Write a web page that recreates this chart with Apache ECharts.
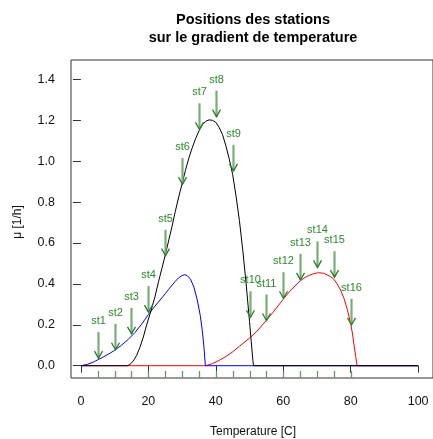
<!DOCTYPE html>
<html><head><meta charset="utf-8">
<script src="https://cdn.jsdelivr.net/npm/echarts@6/dist/echarts.min.js"></script>
<style>html,body{margin:0;padding:0;background:#fff}#c{width:433px;height:439px}</style>
</head><body><div id="c"></div>
<script>
const stationNames = ['st1','st2','st3','st4','st5','st6','st7','st8','st9','st10','st11','st12','st13','st14','st15','st16'];
const stationTemps = [5,10,15,20,25,30,35,40,45,50,55,60,65,70,75,80];
const arrowTips = [0.037,0.078,0.156,0.262,0.538,0.888,1.156,1.218,0.953,0.237,0.221,0.33,0.42,0.481,0.433,0.2];

const blueCurve = [[0,0],[2,0.007],[4,0.02],[5,0.029],[6,0.037],[8,0.055],[10,0.075],[12,0.1],[14,0.128],[15,0.145],[16,0.162],[18,0.203],[20,0.25],[22,0.292],[24,0.332],[25,0.352],[26,0.373],[28,0.413],[29,0.43],[30,0.441],[30.8,0.445],[31.5,0.441],[32.5,0.423],[33.5,0.385],[34.5,0.322],[35.4,0.245],[36,0.17],[36.5,0.09],[36.9,0],[100,0]];
const blackCurve = [[0,0],[13.8,0],[14.5,0.006],[15.5,0.022],[16.5,0.05],[17.5,0.09],[18.5,0.14],[19.5,0.2],[20.8,0.27],[22,0.34],[23,0.41],[24,0.475],[25,0.54],[26,0.61],[27,0.68],[28,0.755],[29,0.825],[30,0.89],[31,0.955],[32,1.015],[33,1.065],[34,1.11],[35,1.148],[36,1.178],[37,1.195],[38,1.202],[39,1.2],[40,1.19],[41,1.165],[42,1.13],[43,1.075],[44,1.01],[45,0.935],[46,0.83],[47,0.71],[48,0.565],[49,0.4],[50,0.215],[50.5,0.12],[51,0.025],[51.2,0],[100,0]];
const redCurve = [[0,0],[37,0],[39,0.01],[41,0.026],[43,0.045],[45,0.068],[47,0.095],[50,0.135],[52,0.165],[55,0.222],[57,0.262],[60,0.325],[62,0.365],[65,0.415],[67,0.437],[69,0.45],[70.5,0.455],[72,0.452],[74,0.436],[75,0.423],[76,0.4],[77,0.37],[78,0.33],[79,0.275],[80,0.205],[80.5,0.16],[81,0.1],[81.5,0.045],[81.9,0],[100,0]];

const xTickValues = [0,20,40,60,80,100];
const yTickValues = [0,0.2,0.4,0.6,0.8,1.0,1.2,1.4];

const chart = echarts.init(document.getElementById('c'), null, {renderer:'canvas'});
const FONT = 'Liberation Sans, Arial, Helvetica, sans-serif';

const option = {
  animation: false,
  backgroundColor: '#ffffff',
  grid: {left: 71, top: 60, right: -3, bottom: 61, show: true, borderColor: '#333', borderWidth: 1, backgroundColor: 'transparent'},
  xAxis: {
    type: 'value', min: -2.941, max: 104.41,
    splitLine: {show: false},
    axisLine: {show: false},
    axisTick: {show: true, inside: false, length: 7, customValues: xTickValues, lineStyle: {color: '#333'}},
    axisLabel: {customValues: xTickValues, margin: 17, fontSize: 12.5, color: '#111', fontFamily: FONT}
  },
  yAxis: {
    type: 'value', min: -0.0601, max: 1.4949,
    splitLine: {show: false},
    axisLine: {show: false},
    axisTick: {show: true, inside: false, length: 8, customValues: yTickValues, lineStyle: {color: '#333'}},
    axisLabel: {customValues: yTickValues, margin: 16, fontSize: 12.5, color: '#111', fontFamily: FONT,
      formatter: v => v.toFixed(1)}
  },
  graphic: [
    {type: 'text', x: 253, y: 20, style: {text: 'Positions des stations', fontSize: 14.5, fontWeight: 'bold', fontFamily: FONT, fill: '#000', align: 'center', verticalAlign: 'middle'}},
    {type: 'text', x: 253, y: 38, style: {text: 'sur le gradient de temperature', fontSize: 14.5, fontWeight: 'bold', fontFamily: FONT, fill: '#000', align: 'center', verticalAlign: 'middle'}},
    {type: 'text', x: 253, y: 432, style: {text: 'Temperature [C]', fontSize: 12, fontFamily: FONT, fill: '#111', align: 'center', verticalAlign: 'middle'}},
    {type: 'text', x: 18, y: 222, rotation: Math.PI/2, style: {text: 'μ [1/h]', fontSize: 12, fontFamily: FONT, fill: '#111', align: 'center', verticalAlign: 'middle'}}
  ],
  series: [
    {type: 'line', data: redCurve, showSymbol: false, symbol: 'none', lineStyle: {color: '#ff0000', width: 1}, z: 2},
    {type: 'line', data: blueCurve, showSymbol: false, symbol: 'none', lineStyle: {color: '#0000ff', width: 1}, z: 3},
    {type: 'line', data: blackCurve, showSymbol: false, symbol: 'none', lineStyle: {color: '#000', width: 1}, z: 4},
    {type: 'custom', z: 5, clip: false,
      data: stationTemps.map(t => [t, 0]),
      renderItem: function(params, api){
        const p = api.coord([api.value(0), 0]);
        const cs = params.coordSys;
        const yb = cs.y + cs.height;
        const x = Math.round(p[0]) + 0.5;
        return {type: 'line', shape: {x1: x, y1: yb - 7, x2: x, y2: yb}, style: {stroke: '#5c9e5c', lineWidth: 1.3}};
      }
    },
    {type: 'custom', z: 6, clip: false,
      data: stationTemps.map((t, i) => [t, arrowTips[i], i]),
      renderItem: function(params, api){
        const p = api.coord([api.value(0), api.value(1)]);
        const x = Math.round(p[0]) + 0.5;
        const y = p[1];
        return {type: 'group', children: [
          {type: 'line', shape: {x1: x, y1: y - 26, x2: x, y2: y}, style: {stroke: '#78ad78', lineWidth: 2.2}},
          {type: 'polyline', shape: {points: [[x - 4, y - 7], [x, y], [x + 4, y - 7]]}, style: {stroke: '#2d7a2d', lineWidth: 1.3, fill: null}},
          {type: 'text', x: x, y: y - 37, style: {text: stationNames[api.value(2)], fontSize: 11, fontFamily: FONT, fill: '#2a8a2a', align: 'center', verticalAlign: 'middle'}}
        ]};
      }
    }
  ]
};
chart.setOption(option);
</script>
</body></html>
